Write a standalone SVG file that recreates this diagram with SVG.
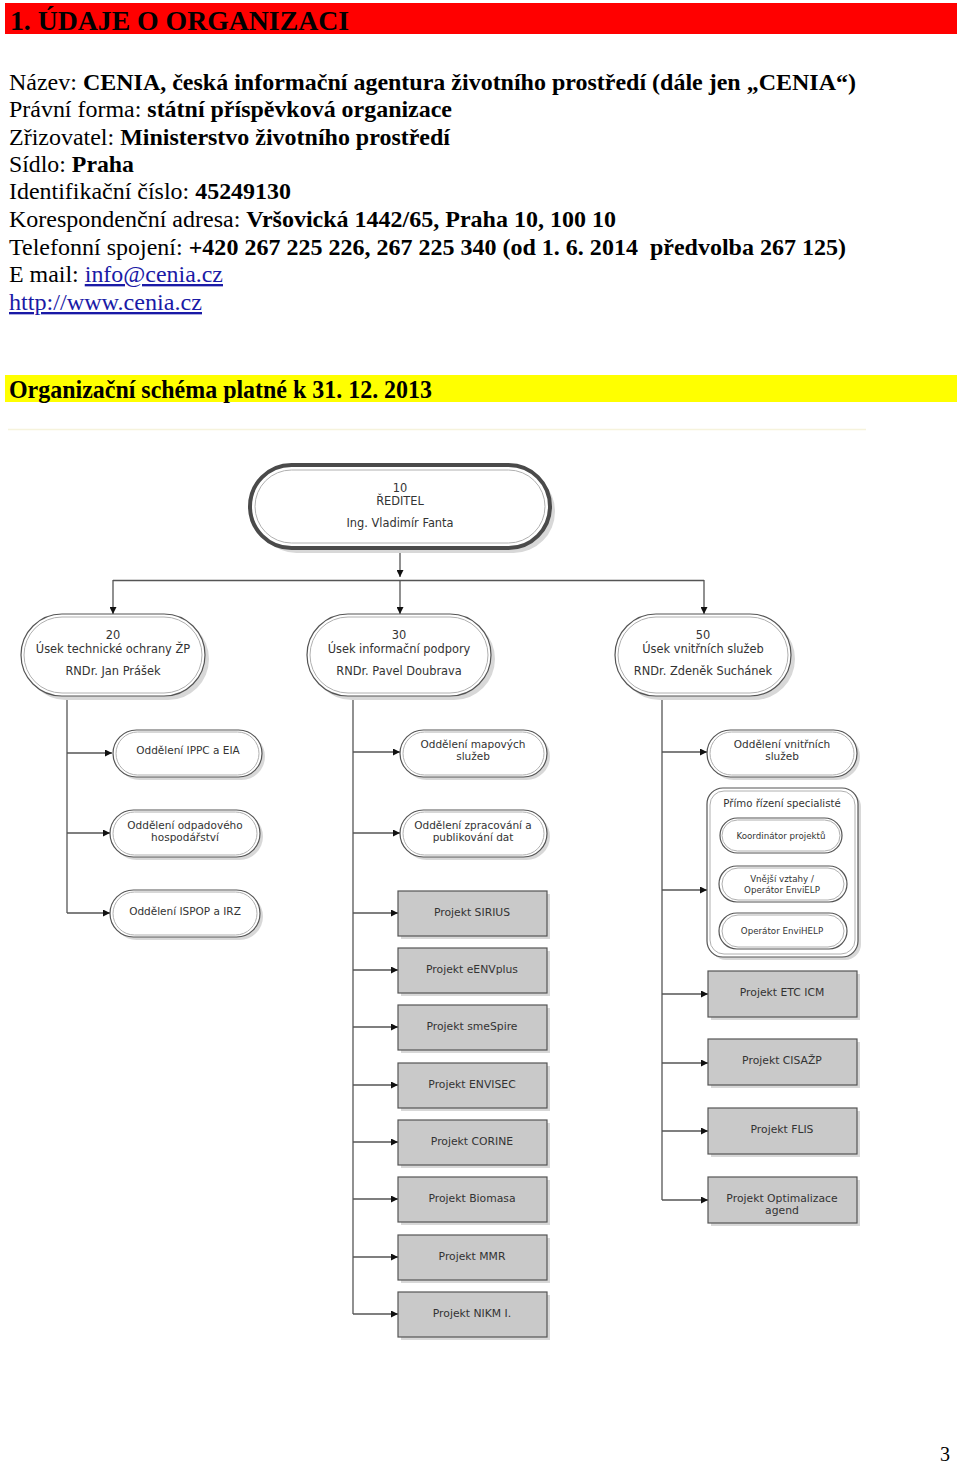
<svg xmlns="http://www.w3.org/2000/svg" width="960" height="1466" viewBox="0 0 960 1466">
<style>
.hd{font-family:"Liberation Serif","Times New Roman",Times,serif;fill:#000}
.inf{font-family:"Liberation Serif","Times New Roman",Times,serif;font-size:23.5px;fill:#000}
.b{font-weight:bold}
.lnk{fill:#1a1aa6;text-decoration:underline}
.bx{fill:#fff;stroke:#555;stroke-width:1.2}
.bxi{fill:none;stroke:#b0b0b0;stroke-width:1}
.sh{fill:#d8d8d8}
.pj{fill:#c9c9c9;stroke:#555;stroke-width:1.2}
.t{font-family:"DejaVu Sans",Verdana,sans-serif;fill:#333;text-anchor:middle}
.t11{font-size:11.4px}
.t10{font-size:10.5px}
.tp{font-size:10.8px}
.t9{font-size:10.2px}
.t8{font-size:8.7px}
.cn{fill:none;stroke:#555;stroke-width:1.3}
</style>
<defs>
<marker id="ar" viewBox="0 0 10 10" refX="10" refY="5" markerWidth="7" markerHeight="7" markerUnits="userSpaceOnUse" orient="auto">
<path d="M0,0 L10,5 L0,10 z" fill="#111"/>
</marker>
</defs>
<rect width="960" height="1466" fill="#fff"/>

<g id="header">
<rect x="5" y="3" width="952" height="31" fill="#ff0000"/>
<text class="hd b" x="10" y="30" font-size="27" textLength="339" lengthAdjust="spacingAndGlyphs">1. ÚDAJE O ORGANIZACI</text>
</g>

<g id="info">
<text class="inf" x="9" y="90" textLength="847" lengthAdjust="spacingAndGlyphs">Název: <tspan class="b">CENIA, česká informační agentura životního prostředí (dále jen „CENIA“)</tspan></text>
<text class="inf" x="9" y="117" textLength="443" lengthAdjust="spacingAndGlyphs">Právní forma: <tspan class="b">státní příspěvková organizace</tspan></text>
<text class="inf" x="9" y="145" textLength="441" lengthAdjust="spacingAndGlyphs">Zřizovatel: <tspan class="b">Ministerstvo životního prostředí</tspan></text>
<text class="inf" x="9" y="172" textLength="125" lengthAdjust="spacingAndGlyphs">Sídlo: <tspan class="b">Praha</tspan></text>
<text class="inf" x="9" y="199" textLength="282" lengthAdjust="spacingAndGlyphs">Identifikační číslo: <tspan class="b">45249130</tspan></text>
<text class="inf" x="9" y="227" textLength="607" lengthAdjust="spacingAndGlyphs">Korespondenční adresa: <tspan class="b">Vršovická 1442/65, Praha 10, 100 10</tspan></text>
<text class="inf" x="9" y="255" textLength="837" lengthAdjust="spacingAndGlyphs" xml:space="preserve">Telefonní spojení: <tspan class="b">+420 267 225 226, 267 225 340 (od 1. 6. 2014  předvolba 267 125)</tspan></text>
<text class="inf" x="9" y="282" textLength="214" lengthAdjust="spacingAndGlyphs">E mail: <tspan class="lnk">info@cenia.cz</tspan></text>
<text class="inf lnk" x="9" y="310" textLength="193" lengthAdjust="spacingAndGlyphs">http://www.cenia.cz</text>
</g>

<g id="subtitle">
<rect x="5" y="375" width="952" height="27" fill="#ffff00"/>
<text class="hd b" x="9" y="398" font-size="26" textLength="423" lengthAdjust="spacingAndGlyphs">Organizační schéma platné k 31. 12. 2013</text>
<line x1="8" y1="429.5" x2="866" y2="429.5" stroke="#f6f3dc" stroke-width="1.5"/>
</g>

<g id="connectors">
<path class="cn" d="M400,548 V577" marker-end="url(#ar)"/>
<path class="cn" d="M113,580.5 H704"/>
<path class="cn" d="M113,580 V614" marker-end="url(#ar)"/>
<path class="cn" d="M400,580 V614" marker-end="url(#ar)"/>
<path class="cn" d="M704,580 V614" marker-end="url(#ar)"/>
<path class="cn" d="M67,696 V913"/>
<path class="cn" d="M67,753 H112" marker-end="url(#ar)"/>
<path class="cn" d="M67,833 H110" marker-end="url(#ar)"/>
<path class="cn" d="M67,913 H110" marker-end="url(#ar)"/>
<path class="cn" d="M353,696 V1314"/>
<path class="cn" d="M353,752 H400" marker-end="url(#ar)"/>
<path class="cn" d="M353,833 H400" marker-end="url(#ar)"/>
<path class="cn" d="M353,913 H398" marker-end="url(#ar)"/>
<path class="cn" d="M353,970 H398" marker-end="url(#ar)"/>
<path class="cn" d="M353,1027 H398" marker-end="url(#ar)"/>
<path class="cn" d="M353,1085 H398" marker-end="url(#ar)"/>
<path class="cn" d="M353,1142 H398" marker-end="url(#ar)"/>
<path class="cn" d="M353,1199 H398" marker-end="url(#ar)"/>
<path class="cn" d="M353,1257 H398" marker-end="url(#ar)"/>
<path class="cn" d="M353,1314 H398" marker-end="url(#ar)"/>
<path class="cn" d="M662,697 V1200"/>
<path class="cn" d="M662,752 H707" marker-end="url(#ar)"/>
<path class="cn" d="M662,890 H707" marker-end="url(#ar)"/>
<path class="cn" d="M662,994 H708" marker-end="url(#ar)"/>
<path class="cn" d="M662,1063 H708" marker-end="url(#ar)"/>
<path class="cn" d="M662,1131 H708" marker-end="url(#ar)"/>
<path class="cn" d="M662,1200 H708" marker-end="url(#ar)"/>
</g>

<g id="n10">
<rect class="sh" x="255" y="470" width="300" height="83" rx="41.5"/>
<rect x="250" y="465" width="300" height="83" rx="41.5" fill="#fff" stroke="#4a4a4a" stroke-width="4"/>
<rect class="bxi" x="255" y="470" width="290" height="73" rx="36.5"/>
<text class="t t11" x="400" y="492">10</text>
<text class="t t11" x="400" y="505">ŘEDITEL</text>
<text class="t t11" x="400" y="527">Ing. Vladimír Fanta</text>
</g>

<g id="n20">
<rect class="sh" x="25" y="618" width="184" height="82" rx="41"/>
<rect class="bx" x="21" y="614" width="184" height="82" rx="41" stroke="#333"/>
<rect class="bxi" x="24" y="617" width="178" height="76" rx="38"/>
<text class="t t11" x="113" y="639">20</text>
<text class="t t11" x="113" y="653">Úsek technické ochrany ŽP</text>
<text class="t t11" x="113" y="675">RNDr. Jan Prášek</text>
</g>

<g id="n30">
<rect class="sh" x="311" y="618" width="184" height="82" rx="41"/>
<rect class="bx" x="307" y="614" width="184" height="82" rx="41"/>
<rect class="bxi" x="310" y="617" width="178" height="76" rx="38"/>
<text class="t t11" x="399" y="639">30</text>
<text class="t t11" x="399" y="653">Úsek informační podpory</text>
<text class="t t11" x="399" y="675">RNDr. Pavel Doubrava</text>
</g>

<g id="n50">
<rect class="sh" x="619" y="618" width="176" height="82" rx="41"/>
<rect class="bx" x="615" y="614" width="176" height="82" rx="41"/>
<rect class="bxi" x="618" y="617" width="170" height="76" rx="38"/>
<text class="t t11" x="703" y="639">50</text>
<text class="t t11" x="703" y="653">Úsek vnitřních služeb</text>
<text class="t t11" x="703" y="675">RNDr. Zdeněk Suchánek</text>
</g>

<g id="n21">
<rect class="sh" x="116" y="733" width="149" height="47" rx="23.5"/>
<rect class="bx" x="113" y="730" width="149" height="47" rx="23.5"/>
<rect class="bxi" x="116" y="732" width="143" height="43" rx="21.5"/>
<text class="t t10" x="188" y="754">Oddělení IPPC a EIA</text>
</g>
<g id="n22">
<rect class="sh" x="113" y="813" width="150" height="47" rx="23.5"/>
<rect class="bx" x="110" y="810" width="150" height="47" rx="23.5"/>
<rect class="bxi" x="113" y="812" width="144" height="43" rx="21.5"/>
<text class="t t10" x="185" y="829">Oddělení odpadového</text>
<text class="t t10" x="185" y="841">hospodářství</text>
</g>
<g id="n23">
<rect class="sh" x="113" y="893" width="150" height="47" rx="23.5"/>
<rect class="bx" x="110" y="890" width="150" height="47" rx="23.5"/>
<rect class="bxi" x="113" y="892" width="144" height="43" rx="21.5"/>
<text class="t t10" x="185" y="915">Oddělení ISPOP a IRZ</text>
</g>

<g id="n31">
<rect class="sh" x="403" y="733" width="147" height="47" rx="23.5"/>
<rect class="bx" x="400" y="730" width="147" height="47" rx="23.5"/>
<rect class="bxi" x="403" y="732" width="141" height="43" rx="21.5"/>
<text class="t t10" x="473" y="748">Oddělení mapových</text>
<text class="t t10" x="473" y="760">služeb</text>
</g>
<g id="n32">
<rect class="sh" x="403" y="813" width="147" height="47" rx="23.5"/>
<rect class="bx" x="400" y="810" width="147" height="47" rx="23.5"/>
<rect class="bxi" x="403" y="812" width="141" height="43" rx="21.5"/>
<text class="t t10" x="473" y="829">Oddělení zpracování a</text>
<text class="t t10" x="473" y="841">publikování dat</text>
</g>

<g id="p1"><rect class="sh" x="401" y="894" width="149" height="45"/><rect class="pj" x="398" y="891" width="149" height="45"/><text class="t tp" x="472" y="916">Projekt SIRIUS</text></g>
<g id="p2"><rect class="sh" x="401" y="951" width="149" height="45"/><rect class="pj" x="398" y="948" width="149" height="45"/><text class="t tp" x="472" y="973">Projekt eENVplus</text></g>
<g id="p3"><rect class="sh" x="401" y="1008" width="149" height="45"/><rect class="pj" x="398" y="1005" width="149" height="45"/><text class="t tp" x="472" y="1030">Projekt smeSpire</text></g>
<g id="p4"><rect class="sh" x="401" y="1066" width="149" height="45"/><rect class="pj" x="398" y="1063" width="149" height="45"/><text class="t tp" x="472" y="1088">Projekt ENVISEC</text></g>
<g id="p5"><rect class="sh" x="401" y="1123" width="149" height="45"/><rect class="pj" x="398" y="1120" width="149" height="45"/><text class="t tp" x="472" y="1145">Projekt CORINE</text></g>
<g id="p6"><rect class="sh" x="401" y="1180" width="149" height="45"/><rect class="pj" x="398" y="1177" width="149" height="45"/><text class="t tp" x="472" y="1202">Projekt Biomasa</text></g>
<g id="p7"><rect class="sh" x="401" y="1238" width="149" height="45"/><rect class="pj" x="398" y="1235" width="149" height="45"/><text class="t tp" x="472" y="1260">Projekt MMR</text></g>
<g id="p8"><rect class="sh" x="401" y="1295" width="149" height="45"/><rect class="pj" x="398" y="1292" width="149" height="45"/><text class="t tp" x="472" y="1317">Projekt NIKM I.</text></g>

<g id="n51">
<rect class="sh" x="710" y="733" width="150" height="47" rx="23.5"/>
<rect class="bx" x="707" y="730" width="150" height="47" rx="23.5"/>
<rect class="bxi" x="710" y="732" width="144" height="43" rx="21.5"/>
<text class="t t10" x="782" y="748">Oddělení vnitřních</text>
<text class="t t10" x="782" y="760">služeb</text>
</g>

<g id="n52">
<rect class="sh" x="710" y="791" width="151" height="169" rx="16"/>
<rect class="bx" x="707" y="788" width="151" height="169" rx="16"/>
<rect class="bxi" x="710" y="791" width="145" height="163" rx="14"/>
<text class="t t9" x="782" y="807">Přímo řízení specialisté</text>
<g id="n52a">
<rect class="bx" x="720" y="818" width="122" height="35" rx="17.5" stroke="#999"/>
<rect class="bxi" x="722" y="820" width="118" height="31" rx="15.5"/>
<text class="t t8" x="781" y="839">Koordinátor projektů</text>
</g>
<g id="n52b">
<rect class="bx" x="719" y="866" width="128" height="36" rx="18"/>
<rect class="bxi" x="722" y="868" width="122" height="32" rx="16"/>
<text class="t t8" x="782" y="882">Vnější vztahy /</text>
<text class="t t8" x="782" y="893">Operátor EnviELP</text>
</g>
<g id="n52c">
<rect class="bx" x="719" y="913" width="128" height="36" rx="18"/>
<rect class="bxi" x="722" y="915" width="122" height="32" rx="16"/>
<text class="t t8" x="782" y="934">Operátor EnviHELP</text>
</g>
</g>

<g id="r1"><rect class="sh" x="711" y="974" width="149" height="46"/><rect class="pj" x="708" y="971" width="149" height="46"/><text class="t tp" x="782" y="996">Projekt ETC ICM</text></g>
<g id="r2"><rect class="sh" x="711" y="1042" width="149" height="46"/><rect class="pj" x="708" y="1039" width="149" height="46"/><text class="t tp" x="782" y="1064">Projekt CISAŽP</text></g>
<g id="r3"><rect class="sh" x="711" y="1111" width="149" height="46"/><rect class="pj" x="708" y="1108" width="149" height="46"/><text class="t tp" x="782" y="1133">Projekt FLIS</text></g>
<g id="r4"><rect class="sh" x="711" y="1180" width="149" height="46"/><rect class="pj" x="708" y="1177" width="149" height="46"/><text class="t tp" x="782" y="1202">Projekt Optimalizace</text><text class="t tp" x="782" y="1214">agend</text></g>

<text class="hd" x="940" y="1461" font-size="20">3</text>
</svg>
